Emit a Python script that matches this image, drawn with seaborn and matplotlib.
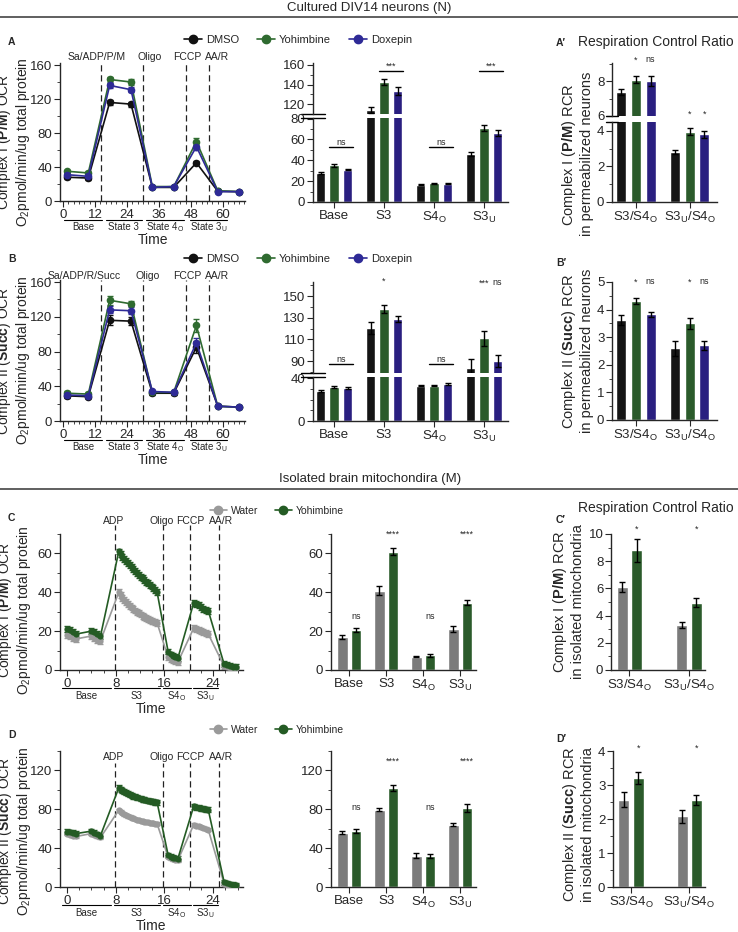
import pandas as pd
import seaborn as sns
import matplotlib.pyplot as plt
from matplotlib.lines import Line2D
from matplotlib.ticker import MultipleLocator

# ---------------- data ----------------
groups_N = ["DMSO", "Yohimbine", "Doxepin"]
groups_M = ["Water", "Yohimbine"]
phases_bar = ["Base", "S3", "S4$_\\mathrm{O}$", "S3$_\\mathrm{U}$"]
rcr_cats = ["S3/S4$_\\mathrm{O}$", "S3$_\\mathrm{U}$/S4$_\\mathrm{O}$"]

# A / B time courses (neurons)
t_N = [1.5, 9.5, 17.5, 25.5, 33.5, 41.5, 50, 58, 66]
a_dmso = [28, 27, 116, 114, 16, 16, 45, 11.5, 11]
a_yoh = [35, 33, 143, 140, 17, 17, 70, 12, 11]
a_dox = [31, 29, 136, 131, 16, 17, 64, 11, 11]
a_dmso_err = [2, 2, 3, 3, 1, 1, 2, 1, 1]
a_yoh_err = [2, 2, 3, 3, 1, 1, 4, 1, 1]
a_dox_err = [2, 2, 3, 3, 1, 1, 4, 1, 1]

b_dmso = [29, 28, 116, 115, 32, 32, 85, 17, 16]
b_yoh = [32, 31, 139, 135, 33, 33, 110, 17, 16]
b_dox = [30, 29, 128, 127, 34, 33, 90, 17, 16]
b_dmso_err = [2, 2, 6, 5, 2, 2, 7, 1, 1]
b_yoh_err = [2, 2, 5, 3, 2, 2, 7, 1, 1]
b_dox_err = [2, 2, 4, 4, 2, 2, 6, 1, 1]

# A / B bars
a_bar = {"DMSO": [28, 114, 16.5, 46], "Yohimbine": [35, 142.5, 18, 71], "Doxepin": [31, 133.5, 17.5, 66]}
a_bar_err = {"DMSO": [0.8, 3, 0.3, 1.5], "Yohimbine": [1.2, 3, 0.5, 3], "Doxepin": [0.8, 4.5, 0.5, 3]}
b_bar = {"DMSO": [28, 120.5, 33, 84], "Yohimbine": [31.5, 138, 33, 111], "Doxepin": [31, 128.5, 34.5, 90]}
b_bar_err = {"DMSO": [0.8, 5.5, 0.5, 8], "Yohimbine": [1, 3.7, 0.6, 7], "Doxepin": [1, 2.8, 0.8, 5.5]}

# A' / B' RCR
a_rcr = {"DMSO": [7.37, 2.8], "Yohimbine": [8.08, 3.95], "Doxepin": [8.0, 3.8]}
a_rcr_err = {"DMSO": [0.17, 0.12], "Yohimbine": [0.22, 0.2], "Doxepin": [0.3, 0.22]}
b_rcr = {"DMSO": [3.61, 2.6], "Yohimbine": [4.31, 3.5], "Doxepin": [3.83, 2.71]}
b_rcr_err = {"DMSO": [0.18, 0.27], "Yohimbine": [0.1, 0.19], "Doxepin": [0.08, 0.17]}

# C / D time courses (isolated mitochondria)
t_M = [0.0, 0.5, 1.0, 1.5, 4.0, 4.5, 5.0, 5.5,
       8.5, 8.8, 9.1, 9.4, 9.7, 10.0, 10.3, 10.6, 10.9, 11.2, 11.5,
       11.8, 12.1, 12.4, 12.7, 13.0, 13.3, 13.6, 13.9, 14.2, 14.5, 14.8,
       16.6, 17.0, 17.4, 17.8, 18.2,
       20.8, 21.2, 21.6, 22.0, 22.4, 22.8, 23.2,
       25.8, 26.3, 26.8, 27.3, 27.8]
c_water = [18, 17.5, 16.5, 16, 17.5, 16.5, 15.5, 15,
           40, 38.5, 37, 36, 35, 34, 33, 32.2, 31.4, 30.6, 30,
           29.3, 28.6, 28, 27.4, 26.8, 26.3, 25.8, 25.3, 25, 24.6, 24.2,
           6.5, 5.5, 5, 4.5, 4,
           21.5, 21, 20.5, 20, 19.5, 19, 18.5,
           2, 1.5, 1, 1, 0.8]
c_yoh = [21, 20.5, 19.5, 18.5, 20, 19.5, 18.5, 17.5,
         61, 59.5, 58, 57, 56, 55, 54, 53, 52, 51, 50,
         49, 48, 47.2, 46.4, 45.5, 44.7, 43.8, 43, 42, 41, 40,
         9.5, 8, 7, 6.5, 6,
         34.5, 34, 33.5, 32.5, 31.5, 31, 30.5,
         3, 2.5, 2, 1.5, 1.5]
d_water = [55, 54, 53, 52, 55, 53.5, 52, 51,
           79, 77.5, 76.2, 75, 74, 73, 72.2, 71.4, 70.7, 70, 69.4,
           68.8, 68.3, 67.8, 67.3, 66.9, 66.5, 66.1, 65.8, 65.5, 65.2, 65,
           31, 29.5, 28.5, 28, 27.5,
           64, 63, 62.5, 61.5, 61, 60, 59,
           3.5, 2.5, 2, 1.5, 1.2]
d_yoh = [57, 56.5, 56, 55, 57.5, 56, 54.5, 53,
         102, 100.5, 99.2, 98, 97, 96, 95.2, 94.4, 93.6, 92.9, 92.2,
         91.6, 91, 90.5, 90, 89.5, 89, 88.6, 88.2, 87.8, 87.4, 87,
         33, 31, 30, 29.5, 29,
         83, 82, 81.5, 81, 80.5, 80, 79.5,
         5, 4, 3, 2.5, 2]
c_err = {"Water": 1.5, "Yohimbine": 1.5}
d_err = {"Water": 1.5, "Yohimbine": 2.5}

# C / D bars
c_bar = {"Water": [17, 40.9, 6.8, 21.3], "Yohimbine": [20.5, 60.9, 7.5, 34.6]}
c_bar_err = {"Water": [0.8, 2.2, 0.3, 1.6], "Yohimbine": [1, 1.7, 0.6, 1.2]}
d_bar = {"Water": [55.7, 79.7, 32.1, 64.3], "Yohimbine": [57.8, 102.3, 32.1, 81.7]}
d_bar_err = {"Water": [1.5, 1.8, 2.5, 2], "Yohimbine": [2, 3, 2, 4]}

# C' / D' RCR
c_rcr = {"Water": [6.13, 3.3], "Yohimbine": [8.8, 4.94]}
c_rcr_err = {"Water": [0.37, 0.2], "Yohimbine": [0.86, 0.32]}
d_rcr = {"Water": [2.57, 2.08], "Yohimbine": [3.2, 2.57]}
d_rcr_err = {"Water": [0.22, 0.19], "Yohimbine": [0.17, 0.15]}

# injections and phase brackets
events_N = [14.2, 30, 46, 54.7]
events_M = [7.9, 15.8, 20.2, 24.9]
phase_span_N = [(0.5, 14.5), (16, 29.5), (31, 45.5), (47.5, 61.5)]
phase_span_M = [(-0.8, 7.2), (7.7, 15.2), (15.7, 20.3), (20.7, 24.8)]
phase_names_N = ["Base", "State 3", "State 4$_\\mathrm{O}$", "State 3$_\\mathrm{U}$"]
phase_names_M = ["Base", "S3", "S4$_\\mathrm{O}$", "S3$_\\mathrm{U}$"]

line_pal_N = {"DMSO": "#111111", "Yohimbine": "#2f6b30", "Doxepin": "#2e2a96"}
bar_pal_N = {"DMSO": "#151515", "Yohimbine": "#2b5b2b", "Doxepin": "#2a1f80"}
line_pal_M = {"Water": "#9a9a9a", "Yohimbine": "#245b24"}
bar_pal_M = {"Water": "#7b7b7b", "Yohimbine": "#2b5b2b"}

# ---------------- style ----------------
sns.set_style("ticks")
plt.rcParams["font.family"] = ["Liberation Sans", "DejaVu Sans"]
plt.rcParams.update({
    "mathtext.fontset": "custom",
    "mathtext.rm": "Liberation Sans",
    "mathtext.bf": "Liberation Sans:bold",
    "mathtext.it": "Liberation Sans:italic",
    "axes.linewidth": 1.0,
    "xtick.labelsize": 9.5,
    "ytick.labelsize": 9.5,
    "xtick.major.size": 4,
    "ytick.major.size": 4,
    "xtick.minor.size": 2.5,
    "ytick.minor.size": 2.5,
    "xtick.major.pad": 1.5,
    "ytick.major.pad": 1.5,
})

W, H = 738, 932
fig = plt.figure(figsize=(W / 100, H / 100), dpi=100)


def box(l, t, r, b):
    return fig.add_axes([l / W, 1 - b / H, (r - l) / W, (b - t) / H])


def ftext(x, y, s, **kw):
    fig.text(x / W, 1 - y / H, s, **kw)


def hline(y):
    fig.add_artist(Line2D([0, 1], [1 - y / H] * 2, color="#444444", lw=1.2))


def ticks(ax, major, minor):
    ax.yaxis.set_major_locator(MultipleLocator(major))
    ax.yaxis.set_minor_locator(MultipleLocator(minor))


def ocr_lines(ax, t, series, errs, palette, ms):
    df = pd.DataFrame([(g, x, v) for g, vals in series.items() for x, v in zip(t, vals)],
                      columns=["group", "time", "ocr"])
    for g in series:
        ax.errorbar(t, series[g], yerr=errs[g], fmt="none", ecolor=palette[g],
                    elinewidth=1, capsize=2, zorder=2)
    sns.lineplot(data=df, x="time", y="ocr", hue="group", hue_order=list(series),
                 palette=palette, marker="o", markersize=ms, markeredgewidth=0,
                 linewidth=1.2, errorbar=None, legend=False, ax=ax, zorder=3)
    ax.set_xlabel("")
    ax.set_ylabel("")
    sns.despine(ax=ax)


def events(ax, xs, names, label_x, label_y, top):
    for x in xs:
        ax.axvline(x, ymin=0, ymax=top, color="#222222", ls=(0, (5, 3)), lw=0.9, clip_on=False)
    tr = ax.get_xaxis_transform()
    for x, s in zip(label_x, names):
        ax.text(x, label_y, s, transform=tr, ha="center", va="center", fontsize=7.5)


def phases(ax, spans, names, y_line, y_text, y_time):
    tr = ax.get_xaxis_transform()
    for (a, b), s in zip(spans, names):
        ax.plot([a, b], [y_line, y_line], transform=tr, clip_on=False, color="k", lw=0.8)
        ax.text((a + b) / 2, y_text, s, transform=tr, ha="center", va="center", fontsize=7)
    ax.text(0.5, y_time, "Time", transform=ax.transAxes, ha="center", va="center", fontsize=10)


def bars(axes, cats, groups, vals, errs, palette, width, gap):
    df = pd.DataFrame([(c, g, v) for g in groups for c, v in zip(cats, vals[g])],
                      columns=["phase", "group", "val"])
    pos = {}
    for ax in axes:
        sns.barplot(data=df, x="phase", y="val", hue="group", hue_order=groups, order=cats,
                    palette=palette, width=width, gap=gap, errorbar=None, saturation=1,
                    legend=False, ax=ax)
        for g, cont in zip(groups, ax.containers):
            xs = [p.get_x() + p.get_width() / 2 for p in cont]
            pos[g] = xs
            ax.errorbar(xs, vals[g], yerr=errs[g], fmt="none", ecolor="k",
                        elinewidth=1, capsize=2.5, capthick=1, zorder=4)
        ax.set_xlabel("")
        ax.set_ylabel("")
        sns.despine(ax=ax)
    return pos


def split(top, bot):
    top.spines["bottom"].set_visible(False)
    top.tick_params(axis="x", bottom=False, labelbottom=False)
    bot.spines["top"].set_visible(False)
    for ax, y in ((top, 0), (bot, 1)):
        ax.plot([-0.06, 0.06], [y, y], transform=ax.transAxes, color="k", lw=1, clip_on=False)


def mark(ax, x, y, s, size=6.5):
    ax.text(x, y, s, ha="center", va="center", fontsize=size, clip_on=False)


def sig_line(ax, x0, x1, y, s):
    ax.plot([x0 - 0.1, x1 + 0.1], [y, y], color="k", lw=1, clip_on=False)
    ax.text((x0 + x1) / 2, y, s, ha="center", va="bottom", fontsize=6.5)


def legend(handles_pal, names, x, y, size=8):
    hs = [Line2D([], [], color=handles_pal[n], marker="o", markersize=6, lw=1.2) for n in names]
    fig.legend(hs, names, loc="center", bbox_to_anchor=(x / W, 1 - y / H), ncol=len(names),
               frameon=False, fontsize=size, handlelength=1.6, columnspacing=1.6,
               handletextpad=0.4, borderpad=0)


# ---------------- section headers ----------------
ftext(369, 8, "Cultured DIV14 neurons (N)", ha="center", va="center", fontsize=9.5)
hline(17)
ftext(370, 479, "Isolated brain mitochondira (M)", ha="center", va="center", fontsize=9.5)
hline(489)

ylab_N = "O$_2$pmol/min/ug total protein"

# ---------------- A / B line panels ----------------
for top, bot, series, errs, lab, lab_x, ylabel, leg_y, ev_names, ev_y in (
        (63, 201, {"DMSO": a_dmso, "Yohimbine": a_yoh, "Doxepin": a_dox},
         {"DMSO": a_dmso_err, "Yohimbine": a_yoh_err, "Doxepin": a_dox_err},
         "A", [12.7, 32.6, 46.5, 57.7], "Complex I ($\\mathbf{P/M}$) OCR", 40,
         ["Sa/ADP/P/M", "Oligo", "FCCP", "AA/R"], 1.045),
        (280, 421, {"DMSO": b_dmso, "Yohimbine": b_yoh, "Doxepin": b_dox},
         {"DMSO": b_dmso_err, "Yohimbine": b_yoh_err, "Doxepin": b_dox_err},
         "B", [7.9, 31.9, 46.5, 57.7], "Complex II ($\\mathbf{Succ}$) OCR", 259,
         ["Sa/ADP/R/Succ", "Oligo", "FCCP", "AA/R"], 1.03)):
    ax = box(60, top, 245, bot)
    ocr_lines(ax, t_N, series, errs, line_pal_N, 5.5)
    ax.set_xlim(-1.1, 68.2)
    ax.set_ylim(0, 162.4)
    ticks(ax, 40, 20)
    ax.xaxis.set_major_locator(MultipleLocator(12))
    ax.xaxis.set_minor_locator(MultipleLocator(2))
    events(ax, events_N, ev_names, lab_x, ev_y, 1.0)
    h = bot - top
    phases(ax, phase_span_N, phase_names_N, -19 / h, -26 / h, -39 / h)
    ax.set_ylabel(ylabel + "\n" + ylab_N, fontsize=10, linespacing=1.08)
    ax.yaxis.set_label_coords(-0.15, 0.43)
    ftext(8, top - 21, lab, fontsize=7.5, fontweight="bold", va="center")
    legend(line_pal_N, groups_N, 298, leg_y)

# ---------------- A bar (split axis) ----------------
a_top, a_bot = box(313, 63, 508, 114), box(313, 118, 508, 202)
pos = bars([a_top, a_bot], phases_bar, groups_N, a_bar, a_bar_err, bar_pal_N, 0.81, 0.31)
for ax in (a_top, a_bot):
    ax.set_xlim(-0.42, 3.48)
a_top.set_ylim(110, 162)
ticks(a_top, 20, 10)
a_bot.set_ylim(0, 80.5)
ticks(a_bot, 20, 10)
split(a_top, a_bot)
for i, (ax, y, s) in enumerate(((a_bot, 53, "ns"), (a_top, 154, "***"),
                                (a_bot, 53, "ns"), (a_top, 154, "***"))):
    sig_line(ax, pos["Yohimbine"][i], pos["Doxepin"][i], y, s)

# ---------------- B bar (split axis) ----------------
b_top, b_bot = box(313, 282, 508, 373), box(313, 377, 508, 421)
pos = bars([b_top, b_bot], phases_bar, groups_N, b_bar, b_bar_err, bar_pal_N, 0.81, 0.31)
for ax in (b_top, b_bot):
    ax.set_xlim(-0.42, 3.48)
b_top.set_ylim(79, 163)
b_top.set_yticks([90, 110, 130, 150])
b_top.yaxis.set_minor_locator(MultipleLocator(10))
b_bot.set_ylim(0, 41)
b_bot.set_yticks([0, 40])
b_bot.yaxis.set_minor_locator(MultipleLocator(10))
split(b_top, b_bot)
sig_line(b_top, pos["Yohimbine"][0], pos["Doxepin"][0], 87, "ns")
sig_line(b_top, pos["Yohimbine"][2], pos["Doxepin"][2], 87, "ns")
mark(b_top, pos["Yohimbine"][1], 164, "*")
mark(b_top, pos["Yohimbine"][3], 162, "***")
mark(b_top, pos["Doxepin"][3], 162.5, "ns")

# ---------------- A' RCR (split axis) ----------------
ftext(556, 43, "A\u2032", fontsize=7.5, fontweight="bold", va="center")
ftext(656, 42, "Respiration Control Ratio", ha="center", va="center", fontsize=10)
r_top, r_bot = box(612, 63, 717, 116), box(612, 122, 717, 202)
pos = bars([r_top, r_bot], rcr_cats, groups_N, a_rcr, a_rcr_err, bar_pal_N, 0.83, 0.33)
for ax in (r_top, r_bot):
    ax.set_xlim(-0.44, 1.51)
r_top.set_ylim(6, 9.03)
ticks(r_top, 2, 1)
r_bot.set_ylim(0, 4.5)
ticks(r_bot, 2, 1)
split(r_top, r_bot)
mark(r_top, pos["Yohimbine"][0], 9.2, "*")
mark(r_top, pos["Doxepin"][0], 9.25, "ns")
mark(r_top, pos["Yohimbine"][1], 6.1, "*")
mark(r_top, pos["Doxepin"][1], 6.1, "*")
r_top.set_ylabel("Complex I ($\\mathbf{P/M}$) RCR\nin permeabilized neurons", fontsize=10.5,
                 linespacing=1.15)
r_top.yaxis.set_label_coords(-0.17, -0.72)

# ---------------- B' RCR ----------------
ftext(556, 263, "B\u2032", fontsize=7.5, fontweight="bold", va="center")
ax = box(612, 282, 717, 420)
pos = bars([ax], rcr_cats, groups_N, b_rcr, b_rcr_err, bar_pal_N, 0.83, 0.33)
ax.set_xlim(-0.44, 1.51)
ax.set_ylim(0, 5)
ticks(ax, 1, 0.5)
for i in range(2):
    mark(ax, pos["Yohimbine"][i], 5.0, "*")
    mark(ax, pos["Doxepin"][i], 5.02, "ns")
ax.set_ylabel("Complex II ($\\mathbf{Succ}$) RCR\nin permeabilized neurons", fontsize=10.5,
              linespacing=1.15)
ax.yaxis.set_label_coords(-0.17, 0.5)

# ---------------- C / D line panels ----------------
for top, bot, series, errs, lab, ylim, major, ylabel, leg_y, ev_y, ev_top, ly in (
        (534, 670, {"Water": c_water, "Yohimbine": c_yoh}, c_err, "C", 70, 20,
         "Complex I ($\\mathbf{P/M}$) OCR", 511, 1.095, 1.066, 0.44),
        (751, 887, {"Water": d_water, "Yohimbine": d_yoh}, d_err, "D", 140, 40,
         "Complex II ($\\mathbf{Succ}$) OCR", 730, 0.955, 0.91, 0.41)):
    ax = box(60, top, 243, bot)
    ocr_lines(ax, t_M, series, errs, line_pal_M, 4.5)
    ax.set_xlim(-1.15, 28.9)
    ax.set_ylim(0, ylim)
    ticks(ax, major, major / 2)
    ax.xaxis.set_major_locator(MultipleLocator(8))
    ax.xaxis.set_minor_locator(MultipleLocator(2))
    events(ax, events_M, ["ADP", "Oligo", "FCCP", "AA/R"], [7.7, 15.6, 20.2, 25.3], ev_y, ev_top)
    h = bot - top
    phases(ax, phase_span_M, phase_names_M, -18 / h, -26 / h, -39 / h)
    ax.set_ylabel(ylabel + "\n" + ylab_N, fontsize=10, linespacing=1.08)
    ax.yaxis.set_label_coords(-0.15, ly)
    ftext(8, top - 16, lab, fontsize=7.5, fontweight="bold", va="center")
    legend(line_pal_M, groups_M, 277, leg_y, size=7.5)

# ---------------- C / D bars ----------------
for top, bot, vals, errs, ylim, major, minor, y_ns, y_star in (
        (534, 670, c_bar, c_bar_err, 70, 20, 10, 27.7, 70),
        (751, 887, d_bar, d_bar_err, 140, 40, 20, 82, 129)):
    ax = box(331, top, 476, bot)
    pos = bars([ax], phases_bar, groups_M, vals, errs, bar_pal_M, 0.73, 0.22)
    ax.set_xlim(-0.49, 3.43)
    ax.set_ylim(0, ylim)
    ticks(ax, major, minor)
    for i, (y, s) in enumerate(((y_ns, "ns"), (y_star, "****"), (y_ns, "ns"), (y_star, "****"))):
        mark(ax, pos["Yohimbine"][i], y, s)

# ---------------- C' / D' RCR ----------------
ftext(656, 508, "Respiration Control Ratio", ha="center", va="center", fontsize=10)
for top, bot, left, vals, errs, ylim, major, minor, y_star, lab, lab_y, ylabel, lx, ly in (
        (534, 670, 611, c_rcr, c_rcr_err, 10, 2, 1, 10.35, "C\u2032", 520,
         "Complex I ($\\mathbf{P/M}$) RCR\nin isolated mitochondria", -0.28, 0.5),
        (751, 887, 613, d_rcr, d_rcr_err, 4, 1, 0.5, 4.07, "D\u2032", 739,
         "Complex II ($\\mathbf{Succ}$) RCR\nin isolated mitochondria", -0.2, 0.46)):
    ftext(556, lab_y, lab, fontsize=7.5, fontweight="bold", va="center")
    ax = box(left, top, 705, bot)
    pos = bars([ax], rcr_cats, groups_M, vals, errs, bar_pal_M, 0.49, 0.24)
    ax.set_xlim(-0.31, 1.27)
    ax.set_ylim(0, ylim)
    ticks(ax, major, minor)
    for i in range(2):
        mark(ax, pos["Yohimbine"][i], y_star, "*")
    ax.set_ylabel(ylabel, fontsize=10.5, linespacing=1.15)
    ax.yaxis.set_label_coords(lx, ly)

fig.savefig("out.png", dpi=100)
